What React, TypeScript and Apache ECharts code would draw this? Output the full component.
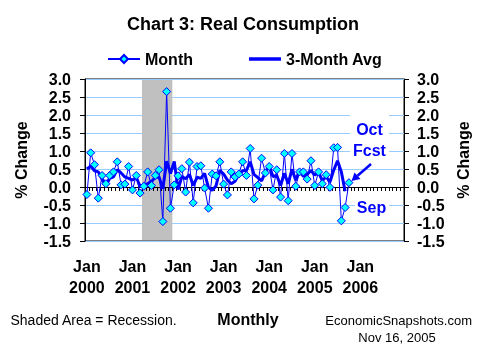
import React, { useEffect, useRef } from "react";
import * as echarts from "echarts";

const FONT = "'Liberation Sans', Arial, Helvetica, sans-serif";

const years = ["2000", "2001", "2002", "2003", "2004", "2005", "2006"];
const monthNames = ["01", "02", "03", "04", "05", "06", "07", "08", "09", "10", "11", "12"];
const categories: string[] = [];
years.forEach((y) => monthNames.forEach((m) => categories.push(`${y}-${m}`)));

// Monthly % change, Jan 2000 .. Oct 2005 (Oct = forecast)
const monthly = [
  -0.21, 0.95, 0.62, -0.31, 0.32, 0.09, 0.32, 0.42, 0.7, 0.06, 0.08, 0.57,
  -0.08, 0.32, -0.17, 0.02, 0.42, 0.04, 0.32, 0.48, -0.96, 2.65, -0.59, 0.06,
  0.31, 0.51, -0.14, 0.69, -0.44, 0.57, 0.59, -0.03, -0.59, 0.36, 0.31, 0.7,
  0.08, -0.22, 0.42, 0.28, 0.36, 0.7, 0.32, 1.07, -0.33, 0.05, 0.8, 0.39,
  0.57, -0.08, 0.48, -0.28, 0.93, -0.38, 0.93, 0.02, 0.42, 0.42, 0.22, 0.73,
  0.04, 0.42, 0.09, 0.34, -0.01, 1.09, 1.1, -0.94, -0.57, 0.12,
];

// 3-month average, Jan 2000 .. Sep 2005
const avg3 = [
  0.5, 0.58, 0.45, 0.42, 0.21, 0.03, 0.24, 0.28, 0.48, 0.39, 0.28, 0.24,
  0.19, 0.27, 0.02, 0.06, 0.09, 0.16, 0.26, 0.28, -0.05, 0.72, 0.37, 0.71,
  -0.07, 0.29, 0.23, 0.35, 0.04, 0.27, 0.24, 0.38, -0.01, -0.09, 0.03, 0.46,
  0.36, 0.19, 0.09, 0.16, 0.35, 0.45, 0.46, 0.7, 0.35, 0.26, 0.17, 0.41,
  0.59, 0.29, 0.32, 0.04, 0.38, 0.09, 0.49, 0.19, 0.46, 0.29, 0.35, 0.46,
  0.33, 0.4, 0.18, 0.28, 0.14, 0.47, 0.73, 0.42, -0.12,
];

const recession = ["2001-04", "2001-11"];
const yTicks = { min: -1.5, max: 3.0, interval: 0.5 };

export default function App() {
  const ref = useRef<HTMLDivElement>(null);

  useEffect(() => {
    if (!ref.current) return;
    const chart = echarts.init(ref.current, null, { renderer: "svg" });
    const recStart = categories.indexOf(recession[0]);
    const recEnd = categories.indexOf(recession[1]) + 1;
    const blue = "#0000FF";
    const labelStyle = { fontFamily: FONT, fontWeight: "bold" as const, fontSize: 16, color: "#000" };

    const yAxisBase = {
      type: "value" as const,
      min: yTicks.min,
      max: yTicks.max,
      interval: yTicks.interval,
      axisLine: { show: true, lineStyle: { color: "#000", width: 1 } },
      axisTick: { show: true, length: 5, lineStyle: { color: "#000" } },
      axisLabel: { ...labelStyle, formatter: (v: number) => v.toFixed(1) },
    };

    chart.setOption({
      animation: false,
      grid: {
        left: 85,
        top: 79,
        width: 319,
        height: 162,
        show: true,
        borderColor: "#000",
        borderWidth: 1,
        backgroundColor: "transparent",
      },
      legend: {
        left: 107,
        top: 51,
        padding: 0,
        itemWidth: 32,
        itemHeight: 10,
        itemGap: 56,
        textStyle: { fontFamily: FONT, fontWeight: "bold", fontSize: 16, color: "#000" },
        data: [
          { name: "Month" },
          { name: "3-Month Avg", icon: "path://M0 0H34V3.5H0Z", itemStyle: { color: blue } },
        ],
      },
      xAxis: [
        {
          type: "category",
          data: categories,
          z: 1.5,
          axisLine: { onZero: true, lineStyle: { color: "#000", width: 1 } },
          axisTick: { show: true, interval: 0, length: 4, lineStyle: { color: "#000" } },
          axisLabel: { show: false },
          splitLine: { show: false },
        },
        {
          type: "category",
          data: categories,
          position: "bottom",
          axisLine: { show: false, onZero: false },
          axisTick: { show: false },
          axisLabel: {
            ...labelStyle,
            interval: 0,
            margin: 15,
            lineHeight: 21,
            formatter: (v: string) => {
              const [y, m] = v.split("-");
              return m === "01" ? `Jan\n${y}` : "";
            },
          },
          splitLine: { show: false },
        },
        { type: "value", min: 0, max: categories.length, show: false },
      ],
      yAxis: [
        {
          ...yAxisBase,
          position: "left",
          axisLabel: { ...yAxisBase.axisLabel, margin: 14 },
          splitLine: { show: true, lineStyle: { color: "#99CCFF", width: 1 } },
        },
        {
          ...yAxisBase,
          position: "right",
          axisLabel: { ...yAxisBase.axisLabel, margin: 13 },
          splitLine: { show: false },
        },
      ],
      series: [
        {
          type: "custom",
          xAxisIndex: 2,
          yAxisIndex: 0,
          z: 1,
          silent: true,
          data: [[recStart, recEnd]],
          renderItem: (params: any, api: any) => {
            const s = api.coord([api.value(0), 0]);
            const e = api.coord([api.value(1), 0]);
            const cs = params.coordSys;
            return {
              type: "rect",
              shape: { x: s[0], y: cs.y + 1, width: e[0] - s[0], height: cs.height - 2 },
              style: { fill: "#C0C0C0" },
            };
          },
        },
        {
          name: "3-Month Avg",
          type: "line",
          xAxisIndex: 0,
          yAxisIndex: 0,
          z: 2,
          data: avg3,
          symbol: "none",
          lineStyle: { color: blue, width: 3 },
          itemStyle: { color: blue },
        },
        {
          name: "Month",
          type: "line",
          xAxisIndex: 0,
          yAxisIndex: 0,
          z: 3,
          data: monthly,
          symbol: "diamond",
          symbolSize: 8,
          showAllSymbol: true,
          lineStyle: { color: blue, width: 1 },
          itemStyle: { color: "#00FFFF", borderColor: blue, borderWidth: 1 },
        },
      ],
      graphic: [
        {
          type: "text",
          x: 243,
          y: 24,
          style: { text: "Chart 3: Real Consumption", fontFamily: FONT, fontWeight: "bold", fontSize: 18, fill: "#000", align: "center", verticalAlign: "middle" },
        },
        {
          type: "text",
          x: 21,
          y: 160,
          rotation: Math.PI / 2,
          style: { text: "% Change", fontFamily: FONT, fontWeight: "bold", fontSize: 16, fill: "#000", align: "center", verticalAlign: "middle" },
        },
        {
          type: "text",
          x: 463,
          y: 160,
          rotation: Math.PI / 2,
          style: { text: "% Change", fontFamily: FONT, fontWeight: "bold", fontSize: 16, fill: "#000", align: "center", verticalAlign: "middle" },
        },
        {
          type: "text",
          x: 10.5,
          y: 320,
          style: { text: "Shaded Area = Recession.", fontFamily: FONT, fontSize: 14, fill: "#000", align: "left", verticalAlign: "middle" },
        },
        {
          type: "text",
          x: 248,
          y: 319,
          style: { text: "Monthly", fontFamily: FONT, fontWeight: "bold", fontSize: 16, fill: "#000", align: "center", verticalAlign: "middle" },
        },
        {
          type: "text",
          x: 472,
          y: 320,
          style: { text: "EconomicSnapshots.com", fontFamily: FONT, fontSize: 13, fill: "#000", align: "right", verticalAlign: "middle" },
        },
        {
          type: "text",
          x: 397,
          y: 337,
          style: { text: "Nov 16, 2005", fontFamily: FONT, fontSize: 13, fill: "#000", align: "center", verticalAlign: "middle" },
        },
        { type: "rect", z: 10, shape: { x: 350, y: 114, width: 39, height: 46 }, style: { fill: "#fff" } },
        {
          type: "text",
          z: 11,
          x: 369.5,
          y: 129.5,
          style: { text: "Oct", fontFamily: FONT, fontWeight: "bold", fontSize: 16, fill: blue, align: "center", verticalAlign: "middle" },
        },
        {
          type: "text",
          z: 11,
          x: 369.5,
          y: 150,
          style: { text: "Fcst", fontFamily: FONT, fontWeight: "bold", fontSize: 16, fill: blue, align: "center", verticalAlign: "middle" },
        },
        { type: "rect", z: 10, shape: { x: 355, y: 198, width: 34, height: 18 }, style: { fill: "#fff" } },
        {
          type: "text",
          z: 11,
          x: 371.5,
          y: 207,
          style: { text: "Sep", fontFamily: FONT, fontWeight: "bold", fontSize: 16, fill: blue, align: "center", verticalAlign: "middle" },
        },
        {
          type: "line",
          z: 11,
          shape: { x1: 371, y1: 164, x2: 357.5, y2: 175.75 },
          style: { stroke: blue, lineWidth: 2.5 },
        },
        {
          type: "polygon",
          z: 11,
          shape: { points: [[351.5, 181], [360.5, 179.1], [354.5, 172.4]] },
          style: { fill: blue },
        },
      ],
    });

    return () => chart.dispose();
  }, []);

  return <div ref={ref} style={{ position: "fixed", left: 0, top: 0, width: 485, height: 356 }} />;
}
